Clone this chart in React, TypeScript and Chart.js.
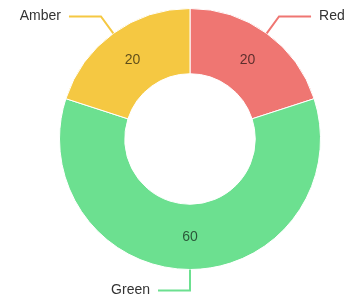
import React, { useEffect, useRef } from "react";
import { Chart, registerables } from "chart.js";

Chart.register(...registerables);

const labels = ["Red", "Green", "Amber"];
const values = [20, 60, 20];
const colors = ["rgb(239,118,114)", "rgb(108,224,144)", "rgb(245,200,66)"];

const FONT = "Helvetica, Arial, 'Liberation Sans', sans-serif";

const labelPlugin = {
  id: "outLabels",
  afterDatasetsDraw(chart: any) {
    const ctx = chart.ctx;
    const meta = chart.getDatasetMeta(0);
    ctx.save();
    meta.data.forEach((arc: any, i: number) => {
      const p = arc.getProps(["x", "y", "startAngle", "endAngle", "innerRadius", "outerRadius"], true);
      const mid = (p.startAngle + p.endAngle) / 2;
      const cos = Math.cos(mid);
      const sin = Math.sin(mid);
      const rMid = (p.innerRadius + p.outerRadius) / 2;
      // value label
      ctx.font = `14px ${FONT}`;
      ctx.fillStyle = "rgba(0,0,0,0.62)";
      ctx.textAlign = "center";
      ctx.textBaseline = "middle";
      ctx.fillText(String(values[i]), p.x + cos * rMid, p.y + sin * rMid);
      // leader line
      const x0 = p.x + cos * p.outerRadius;
      const y0 = p.y + sin * p.outerRadius;
      const r1 = p.outerRadius + 21;
      const x1 = p.x + cos * r1;
      const y1 = p.y + sin * r1;
      const right = cos > 0.001;
      const x2 = right ? x1 + 32 : x1 - 32;
      ctx.strokeStyle = colors[i];
      ctx.lineWidth = 2;
      ctx.beginPath();
      ctx.moveTo(x0, y0);
      ctx.lineTo(x1, y1);
      ctx.lineTo(x2, y1);
      ctx.stroke();
      ctx.fillStyle = "#333";
      ctx.textAlign = right ? "left" : "right";
      ctx.fillText(labels[i], right ? x2 + 8 : x2 - 8, y1);
    });
    ctx.restore();
  },
};

export default function App() {
  const ref = useRef<HTMLCanvasElement>(null);
  useEffect(() => {
    document.body.style.margin = "0";
    const chart = new Chart(ref.current!, {
      type: "doughnut",
      data: {
        labels,
        datasets: [
          {
            data: values,
            backgroundColor: colors,
            borderColor: "#fff",
            borderWidth: 1,
          },
        ],
      },
      options: {
        animation: false,
        responsive: false,
        cutout: "50%",
        layout: { padding: { top: 8, bottom: 32, left: 59, right: 24 } },
        plugins: { legend: { display: false }, tooltip: { enabled: false } },
      },
      plugins: [labelPlugin],
    });
    return () => chart.destroy();
  }, []);
  return (
    <div style={{ width: 345, height: 302 }}>
      <canvas ref={ref} width={345} height={302} style={{ width: 345, height: 302 }} />
    </div>
  );
}
